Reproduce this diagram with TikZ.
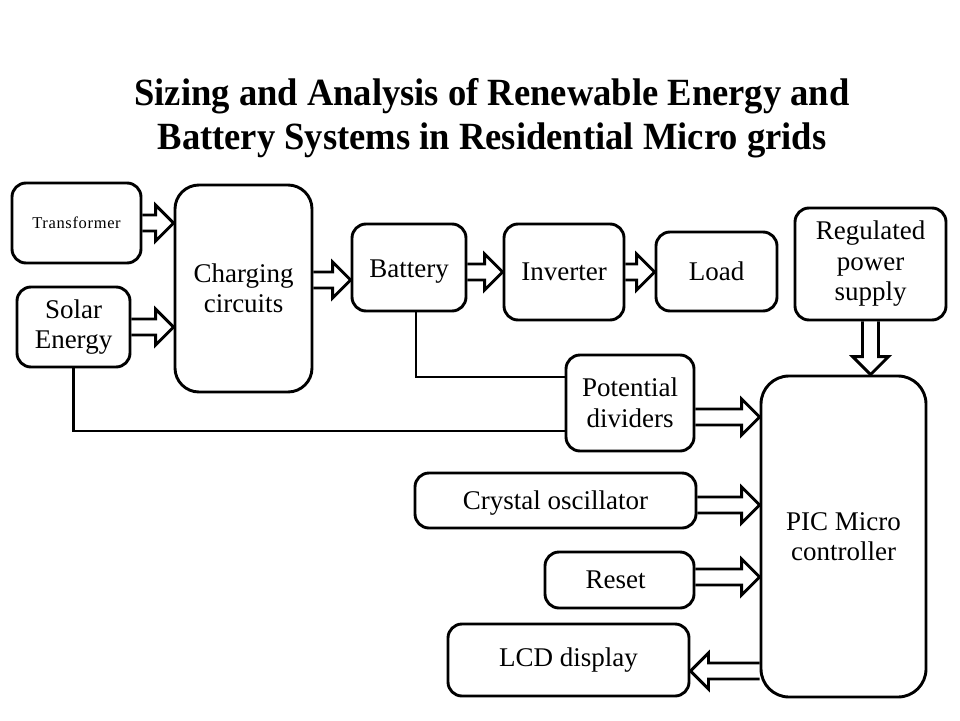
\documentclass[tikz,border=0pt]{standalone}
\usepackage{fontspec}
\setmainfont{Liberation Serif}
\newfontfamily\titlefont{Liberation Serif}[FakeStretch=0.95]
\newfontfamily\smallfont{Liberation Serif}[LetterSpace=4]
\usetikzlibrary{calc}
\tikzset{
  box/.style={draw, line width=2.9pt, rounded corners=14pt, align=center,
    font=\fontsize{27}{30.5}\selectfont, inner sep=0pt},
  arrline/.style={draw, line width=2.9pt, line join=miter},
  wire/.style={draw, line width=2.9pt},
}
\newcommand\harrow[2]{%
  \path #1 coordinate (hs) #2 coordinate (ht);
  \path ($(ht)!18pt!(hs)$) coordinate (hh);
  \draw[arrline] ($(hs)!8pt!90:(ht)$) -- ($(hh)!8pt!90:(ht)$) -- ($(hh)!18pt!90:(ht)$) -- (ht)
     -- ($(hh)!18pt!-90:(ht)$) -- ($(hh)!8pt!-90:(ht)$) -- ($(hs)!8pt!-90:(ht)$);
}
\newcommand\lowered[2]{\raisebox{-#1}[\height][\depth]{#2}}
\begin{document}
\begin{tikzpicture}[x=1pt,y=-1pt]
\useasboundingbox[fill=white] (0,0) rectangle (960,720);
\node[font=\titlefont\bfseries\fontsize{38.5}{44}\selectfont, align=center] (title) at (492,118)
  {Sizing and Analysis of Renewable Energy and\\Battery Systems in Residential Micro grids};

\node[box, minimum width=129pt, minimum height=80pt, font=\smallfont\fontsize{16.5}{18}\selectfont] (tr) at (76.5,223) {Transformer};
\node[box, minimum width=113pt, minimum height=80pt] (so) at (73.5,327) {Solar\\Energy};
\node[box, minimum width=137pt, minimum height=207pt, rounded corners=24pt] (ch) at (243.5,288.5) {Charging\\circuits};
\node[box, minimum width=114pt, minimum height=87pt] (ba) at (409,267.5) {\lowered{4pt}{Battery}};
\node[box, minimum width=120pt, minimum height=96pt] (in) at (564,272) {Inverter};
\node[box, minimum width=121pt, minimum height=79pt] (lo) at (716.5,271.5) {Load};
\node[box, minimum width=151pt, minimum height=112pt] (rps) at (870.5,264) {Regulated\\power\\supply};
\node[box, minimum width=128pt, minimum height=96pt] (pd) at (630,403) {Potential\\dividers};
\node[box, minimum width=165pt, minimum height=321pt, rounded corners=28pt] (pic) at (843.5,536.5) {PIC Micro\\controller};
\node[box, minimum width=281pt, minimum height=55pt] (co) at (555.5,500.5) {\lowered{3pt}{Crystal oscillator}};
\node[box, minimum width=149pt, minimum height=56pt] (re) at (619.5,580) {\hspace*{-8pt}Reset};
\node[box, minimum width=241pt, minimum height=72pt] (lcd) at (568.5,660) {LCD display};

\coordinate (bain) at ([yshift=-12.5pt]ba.west);
\coordinate (pdout) at ([yshift=-14pt]pd.east);
\coordinate (coout) at ([yshift=-4.5pt]co.east);
\coordinate (reout) at ([yshift=3pt]re.east);
\coordinate (lcdin) at ([yshift=-11pt]lcd.east);
\coordinate (batap) at ([xshift=7pt]ba.south);
\coordinate (pdin1) at ([yshift=26pt]pd.west);
\coordinate (pdin2) at ([yshift=-28pt]pd.west);

\harrow{(tr.east)}{(ch.west |- tr.east)}
\harrow{(so.east)}{(ch.west |- so.east)}
\harrow{(ch.east |- bain)}{(bain)}
\harrow{(ba.east |- in.west)}{(in.west)}
\harrow{(in.east)}{(lo.west |- in.east)}
\harrow{(rps.south)}{(pic.north -| rps.south)}
\harrow{(pdout)}{(pic.west |- pdout)}
\harrow{(coout)}{(pic.west |- coout)}
\harrow{(reout)}{(pic.west |- reout)}
\harrow{(pic.west |- lcdin)}{(lcdin)}

\draw[wire] (batap) |- (pdin1);
\draw[wire] (so.south) |- (pdin2);
\end{tikzpicture}
\end{document}
